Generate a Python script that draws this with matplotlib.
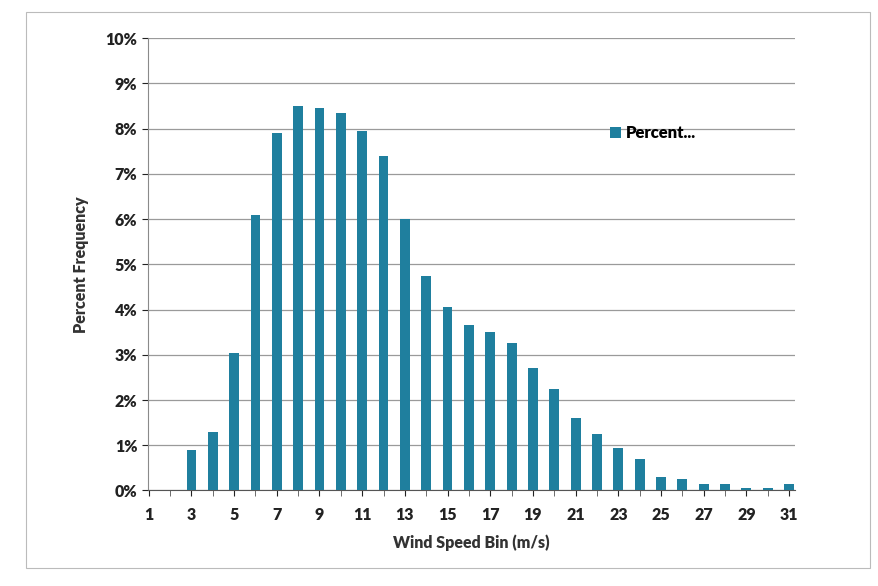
import matplotlib.pyplot as plt
from matplotlib.ticker import FuncFormatter, MultipleLocator

plt.rcParams["font.family"] = ["Lato", "DejaVu Sans"]

wind_bins = list(range(1, 32))
percent = [0.0, 0.0, 0.9, 1.3, 3.05, 6.1, 7.9, 8.5, 8.45, 8.35, 7.95, 7.4, 6.0,
           4.75, 4.05, 3.65, 3.5, 3.25, 2.7, 2.25, 1.6, 1.25, 0.95, 0.7, 0.3,
           0.25, 0.15, 0.15, 0.05, 0.05, 0.15]
y_ticks = list(range(0, 11))

fig = plt.figure(figsize=(8.79, 5.86), facecolor="white", dpi=100)
ax = fig.add_axes([0.168, 0.163, 0.737, 0.772])

ax.bar(wind_bins, percent, width=0.46, color="#1F7F9E", label="Percent...", zorder=3)

ax.set_xlim(0.95, 31.3)
ax.set_ylim(0, 10)
ax.set_yticks(y_ticks)
ax.yaxis.set_major_formatter(FuncFormatter(lambda v, p: f"{v:.0f}%"))
ax.set_xticks(wind_bins[::2])
ax.xaxis.set_minor_locator(MultipleLocator(1))
ax.grid(True, axis="y", color="#9a9a9a", linewidth=0.9, zorder=0)

for s in ["top", "right"]:
    ax.spines[s].set_visible(False)
ax.spines["left"].set_color("#8a8a8a")
ax.spines["bottom"].set_color("#555555")
ax.tick_params(axis="both", labelsize=11.5, colors="#222222", length=4)
ax.tick_params(axis="x", which="minor", length=4, color="#555555")
ax.tick_params(axis="x", pad=8)
for lab in ax.get_xticklabels() + ax.get_yticklabels():
    lab.set_fontweight("heavy")

ax.set_xlabel("Wind Speed Bin (m/s)", fontsize=11.5, fontweight="heavy", color="#333333", labelpad=8)
ax.set_ylabel("Percent Frequency", fontsize=11.5, fontweight="heavy", color="#333333", labelpad=12)

ax.legend(loc="upper left", bbox_to_anchor=(0.69, 0.84), frameon=False,
          prop={"size": 12, "weight": "heavy"}, handlelength=0.7, handletextpad=0.3)

fig.patches.append(plt.Rectangle((0.03, 0.03), 0.96, 0.95, transform=fig.transFigure,
                                 fill=False, edgecolor="#bbbbbb", linewidth=0.8))

plt.savefig("out.png", dpi=100)
